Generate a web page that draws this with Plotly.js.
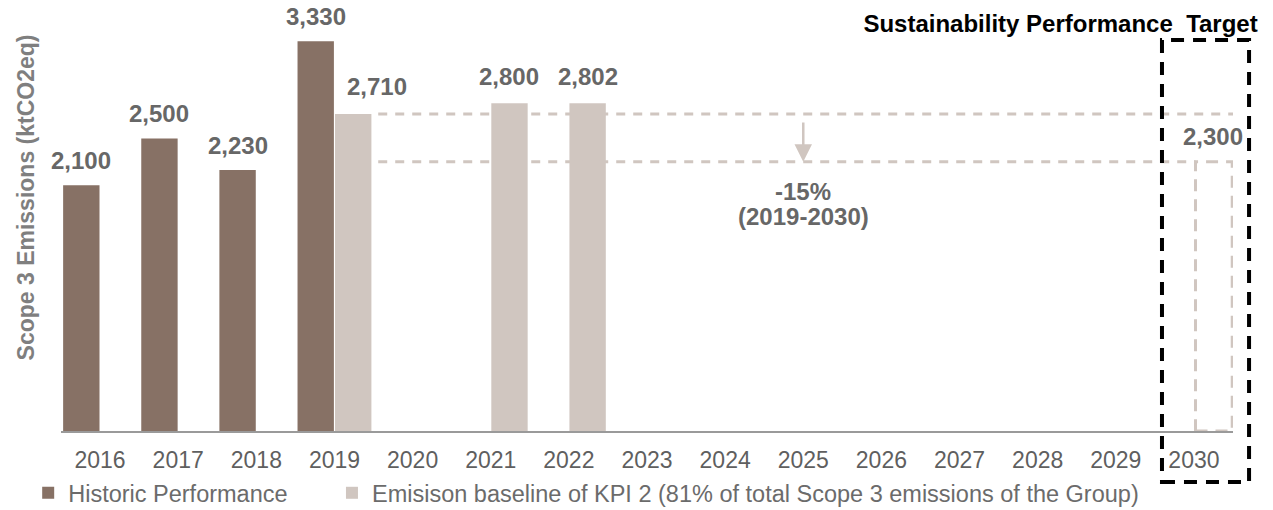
<!DOCTYPE html>
<html>
<head>
<meta charset="utf-8">
<script src="https://cdn.plot.ly/plotly-3.0.1.min.js"></script>
<style>html,body{margin:0;padding:0;background:#fff;}#chart{width:1273px;height:510px;}</style>
</head>
<body>
<div id="chart"></div>
<script>
// ---- data ----
const years = ['2016','2017','2018','2019','2020','2021','2022','2023','2024','2025','2026','2027','2028','2029','2030'];
const historic = [2100, 2500, 2230, 3330, null, null, null, null, null, null, null, null, null, null, null];
const baseline = [null, null, null, 2710, null, 2800, 2802, null, null, null, null, null, null, null, null];
const target = [null, null, null, null, null, null, null, null, null, null, null, null, null, null, 2300];
const seriesNames = ['Historic Performance', 'Emisison baseline of KPI 2 (81% of total Scope 3 emissions of the Group)'];
const reductionText = ['-15%', '(2019-2030)'];
const baseYear = '2019';
const targetYear = '2030';
const arrowYear = '2025';
const yTitle = 'Scope 3 Emissions (ktCO2eq)';
const chartTitle = 'Sustainability Performance\u00a0 Target';

// ---- style ----
const FONT = 'Liberation Sans, Arial, sans-serif';
const cHist = '#877165';
const cBase = '#D0C6C0';
const cLabel = '#676767';
const cTick = '#5f5f5f';
const HALF = 0.24;

const fmt = v => v.toLocaleString('en-US');

const traces = [
  {type:'bar', name:seriesNames[0], x:years, y:historic, marker:{color:cHist}, hoverinfo:'x+y', legend:'legend'},
  {type:'bar', name:seriesNames[1], x:years, y:baseline, marker:{color:cBase}, hoverinfo:'x+y', legend:'legend2'}
];

const annotations = [];
const labelFont = {family:FONT, size:24, color:cLabel, weight:700};
historic.forEach((v,i)=>{ if(v!=null) annotations.push({x:i-HALF, y:v, xref:'x', yref:'y', text:fmt(v), showarrow:false, yshift:25, font:labelFont}); });
baseline.forEach((v,i)=>{
  if(v!=null) {
    // nudge label right when the neighbouring historic bar is taller (avoids overlap, as in the original)
    const nudge = (historic[i]!=null && historic[i] > v) ? 24 : 0;
    annotations.push({x:i+HALF, y:v, xref:'x', yref:'y', text:fmt(v), showarrow:false, yshift:27, xshift:nudge, font:labelFont});
  }
});
target.forEach((v,i)=>{ if(v!=null) annotations.push({x:i+HALF, y:v, xref:'x', yref:'y', text:fmt(v), showarrow:false, yshift:25, font:labelFont}); });

const iBase = years.indexOf(baseYear);
const iTarget = years.indexOf(targetYear);
const iArrow = years.indexOf(arrowYear);
const baseVal = baseline[iBase];
const targetVal = target[iTarget];

// arrow
annotations.push({x:iArrow, y:targetVal, xref:'x', yref:'y', ax:iArrow, ay:baseVal, axref:'x', ayref:'y',
  text:'', showarrow:true, arrowhead:2, arrowsize:1.4, arrowwidth:2.5, arrowcolor:cBase, startstandoff:7, standoff:0});
annotations.push({x:iArrow, y:targetVal, xref:'x', yref:'y', text:reductionText[0], showarrow:false, yshift:-30, font:labelFont});
annotations.push({x:iArrow, y:targetVal, xref:'x', yref:'y', text:reductionText[1], showarrow:false, yshift:-55, font:labelFont});
// y title
annotations.push({xref:'paper', yref:'paper', x:-0.03, y:0.582, text:yTitle, textangle:-90, showarrow:false,
  xanchor:'center', yanchor:'middle', font:{family:FONT, size:23, color:'#7f7f7f', weight:700}});

const dashLine = {color:cBase, width:3, dash:'9px,8px'};
const shapes = [
  {type:'line', xref:'x', yref:'y', x0:iBase+0.56, x1:iTarget+0.5, y0:baseVal, y1:baseVal, line:dashLine},
  {type:'line', xref:'x', yref:'y', x0:iBase+0.56, x1:iTarget+0.02, y0:targetVal, y1:targetVal, line:dashLine},
  {type:'rect', xref:'x', yref:'y', x0:iTarget+0.02, x1:iTarget+0.49, y0:0, y1:targetVal, line:{color:cBase, width:3, dash:'12px,8px'}, fillcolor:'rgba(0,0,0,0)'},
  {type:'rect', xref:'paper', yref:'paper', x0:0.9394, x1:1.0137, y0:-0.127, y1:0.975, line:{color:'#000000', width:4, dash:'13px,9px'}, fillcolor:'rgba(0,0,0,0)', layer:'above'}
];

const legendFont = {family:FONT, size:23.5, color:'#6b6b6b'};
const layout = {
  width:1273, height:510,
  margin:{l:61, r:40, t:30, b:79},
  paper_bgcolor:'#ffffff', plot_bgcolor:'#ffffff',
  font:{family:FONT, color:cTick},
  barmode:'group', bargap:0.04, bargroupgap:0.03,
  title:{text:chartTitle, xref:'container', yref:'container', x:0.988, xanchor:'right', y:0.953, yanchor:'middle',
    font:{family:FONT, size:24, color:'#000000', weight:700}},
  xaxis:{type:'category', categoryorder:'array', categoryarray:years, range:[-0.5, years.length-0.5], autorange:false,
    showline:true, linecolor:'#9a9a9a', linewidth:1.5,
    ticks:'', ticklabelstandoff:8, showgrid:false, zeroline:false, tickfont:{family:FONT, size:23, color:cTick}, fixedrange:true},
  yaxis:{range:[0,3427], autorange:false, visible:false, showgrid:false, zeroline:false, fixedrange:true},
  showlegend:true,
  legend:{orientation:'h', x:-0.028, xanchor:'left', yref:'container', y:0.0333, yanchor:'middle', font:legendFont, bgcolor:'rgba(0,0,0,0)'},
  legend2:{orientation:'h', x:0.2312, xanchor:'left', yref:'container', y:0.0333, yanchor:'middle', font:legendFont, bgcolor:'rgba(0,0,0,0)'},
  annotations:annotations,
  shapes:shapes
};

Plotly.newPlot('chart', traces, layout, {displayModeBar:false, staticPlot:false});
</script>
</body>
</html>
